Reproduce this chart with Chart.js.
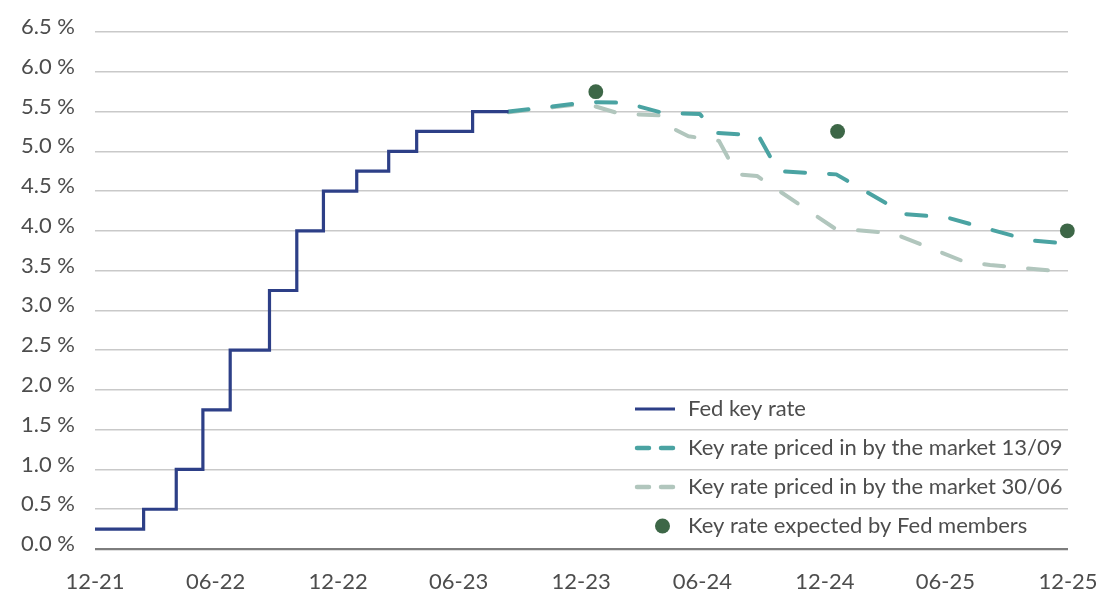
<!DOCTYPE html>
<html>
<head>
<meta charset="utf-8">
<script src="https://cdn.jsdelivr.net/npm/chart.js@4.4.1/dist/chart.umd.min.js"></script>
<style>
  html, body { margin: 0; padding: 0; background: #ffffff; }
  #wrap { width: 1097px; height: 593px; }
</style>
</head>
<body>
<div id="wrap"><canvas id="chart" width="1097" height="593"></canvas></div>
<script>
// X-axis ticks (end of month, every six months)
const tickDates  = ['2021-12-31', '2022-06-30', '2022-12-31', '2023-06-30', '2023-12-31',
                    '2024-06-30', '2024-12-31', '2025-06-30', '2025-12-31'];
const tickLabels = ['12-21', '06-22', '12-22', '06-23', '12-23', '06-24', '12-24', '06-25', '12-25'];

// Fed key rate (upper bound), dates on which each level took effect
const fedDates = ['2021-12-31', '2022-03-14', '2022-05-02', '2022-06-11', '2022-07-22', '2022-09-19',
                  '2022-10-30', '2022-12-09', '2023-01-28', '2023-03-17', '2023-04-28', '2023-07-21',
                  '2023-09-13'];
const fedRate  = [0.25, 0.50, 1.00, 1.75, 2.50, 3.25, 4.00, 4.50, 4.75, 5.00, 5.25, 5.50, 5.50];

// Key rate priced in by the market on 13/09
const mkt1309Dates = ['2023-09-13', '2024-01-13', '2024-03-06', '2024-05-03', '2024-06-26', '2024-07-22',
                      '2024-09-22', '2024-10-22', '2025-01-17', '2025-04-30', '2025-07-01', '2025-11-04',
                      '2025-12-31'];
const mkt1309Rate  = [5.50, 5.62, 5.61, 5.48, 5.47, 5.23, 5.20, 4.75, 4.71, 4.21, 4.17, 3.88, 3.84];

// Key rate priced in by the market on 30/06
const mkt3006Dates = ['2023-09-13', '2024-01-07', '2024-02-28', '2024-05-01', '2024-05-16', '2024-06-09',
                      '2024-07-25', '2024-08-21', '2024-09-20', '2025-01-15', '2025-04-12', '2025-07-29',
                      '2025-09-05', '2025-12-31'];
const mkt3006Rate  = [5.49, 5.60, 5.47, 5.45, 5.29, 5.19, 5.13, 4.71, 4.69, 4.03, 3.97, 3.61, 3.57, 3.48];

// Key rate expected by Fed members
const fomcDates = ['2024-01-22', '2025-01-19', '2025-12-30'];
const fomcRate  = [5.75, 5.25, 4.00];

const seriesNames = ['Fed key rate',
                     'Key rate priced in by the market 13/09',
                     'Key rate priced in by the market 30/06',
                     'Key rate expected by Fed members'];

const FONT = 'Lato, "Noto Sans", sans-serif';
const TEXT = '#4d4d4d';

// day number since the epoch for an ISO date
const day = s => Date.parse(s + 'T00:00:00Z') / 86400000;
const toPoints = (dates, vals) => dates.map((d, i) => ({ x: day(d), y: vals[i] }));

// Legend drawn inside the plot area, lower right
const insideLegend = {
  id: 'insideLegend',
  afterDatasetsDraw(chart, args, opts) {
    const ctx = chart.ctx;
    ctx.save();
    chart.data.datasets.forEach((ds, i) => {
      const y = opts.top + i * opts.rowGap;
      const x0 = opts.left, x1 = opts.left + opts.sampleWidth;
      if (ds.showLine === false) {
        ctx.beginPath();
        ctx.fillStyle = ds.pointBackgroundColor;
        ctx.arc(x0 + 27.5, y, 7.5, 0, Math.PI * 2);
        ctx.fill();
      } else {
        ctx.strokeStyle = ds.borderColor;
        ctx.lineWidth = ds.borderDash ? 4.5 : 3;
        ctx.lineCap = ds.borderDash ? 'round' : 'butt';
        ctx.beginPath();
        if (ds.borderDash) {
          ctx.moveTo(x0 + 2, y); ctx.lineTo(x0 + 14, y);
          ctx.moveTo(x0 + 26, y); ctx.lineTo(x1 - 2, y);
        } else {
          ctx.moveTo(x0, y); ctx.lineTo(x1, y);
        }
        ctx.stroke();
      }
      ctx.fillStyle = TEXT;
      ctx.font = opts.fontSize + 'px ' + FONT;
      ctx.textAlign = 'left';
      ctx.textBaseline = 'middle';
      ctx.fillText(ds.label, opts.textX, y);
    });
    ctx.restore();
  }
};

new Chart(document.getElementById('chart'), {
  type: 'line',
  data: {
    datasets: [
      {
        label: seriesNames[0],
        data: toPoints(fedDates, fedRate),
        borderColor: '#2d3f87',
        borderWidth: 3.2,
        stepped: true,
        pointRadius: 0,
        order: 2
      },
      {
        label: seriesNames[1],
        data: toPoints(mkt1309Dates, mkt1309Rate),
        borderColor: '#4aa3a2',
        borderWidth: 4,
        borderDash: [20, 24],
        borderCapStyle: 'round',
        borderJoinStyle: 'round',
        pointRadius: 0,
        order: 3
      },
      {
        label: seriesNames[2],
        data: toPoints(mkt3006Dates, mkt3006Rate),
        borderColor: '#b1c6bd',
        borderWidth: 4,
        borderDash: [20, 24],
        borderCapStyle: 'round',
        borderJoinStyle: 'round',
        pointRadius: 0,
        order: 4
      },
      {
        label: seriesNames[3],
        data: toPoints(fomcDates, fomcRate),
        showLine: false,
        pointRadius: 7.4,
        pointBorderWidth: 0,
        pointBackgroundColor: '#3d6747',
        pointBorderColor: '#3d6747',
        clip: false,
        order: 1
      }
    ]
  },
  options: {
    responsive: false,
    animation: false,
    devicePixelRatio: 1,
    layout: { padding: { left: 0, right: 29, top: 32, bottom: 0 } },
    plugins: {
      legend: { display: false },
      tooltip: { enabled: false },
      insideLegend: { left: 635, top: 409, rowGap: 39, sampleWidth: 40, textX: 688, fontSize: 22 }
    },
    scales: {
      x: {
        type: 'linear',
        min: day(tickDates[0]),
        max: day(tickDates[tickDates.length - 1]),
        afterBuildTicks(axis) {
          axis.ticks = tickDates.map(d => ({ value: day(d) }));
        },
        afterFit(axis) {
          axis.height = 44;
          axis.paddingLeft = 0;
          axis.paddingRight = 0;
        },
        grid: { display: false, drawTicks: false },
        border: { display: false },
        ticks: {
          autoSkip: false,
          maxRotation: 0,
          padding: 20,
          color: TEXT,
          font: { family: FONT, size: 22 },
          callback: (v, i) => tickLabels[i]
        }
      },
      y: {
        min: 0,
        max: 6.5,
        afterFit(axis) {
          axis.width = 95;
          axis.paddingTop = 0;
          axis.paddingBottom = 0;
        },
        grid: {
          drawTicks: false,
          color: c => (c.tick && c.tick.value === 0) ? '#7d7d7d' : '#c9c9c9',
          lineWidth: c => (c.tick && c.tick.value === 0) ? 2.2 : 1.6
        },
        border: { display: false },
        ticks: {
          stepSize: 0.5,
          padding: 20,
          labelOffset: -5,
          color: TEXT,
          font: { family: FONT, size: 22 },
          callback: v => v.toFixed(1) + ' %'
        }
      }
    }
  },
  plugins: [insideLegend]
});
</script>
</body>
</html>
